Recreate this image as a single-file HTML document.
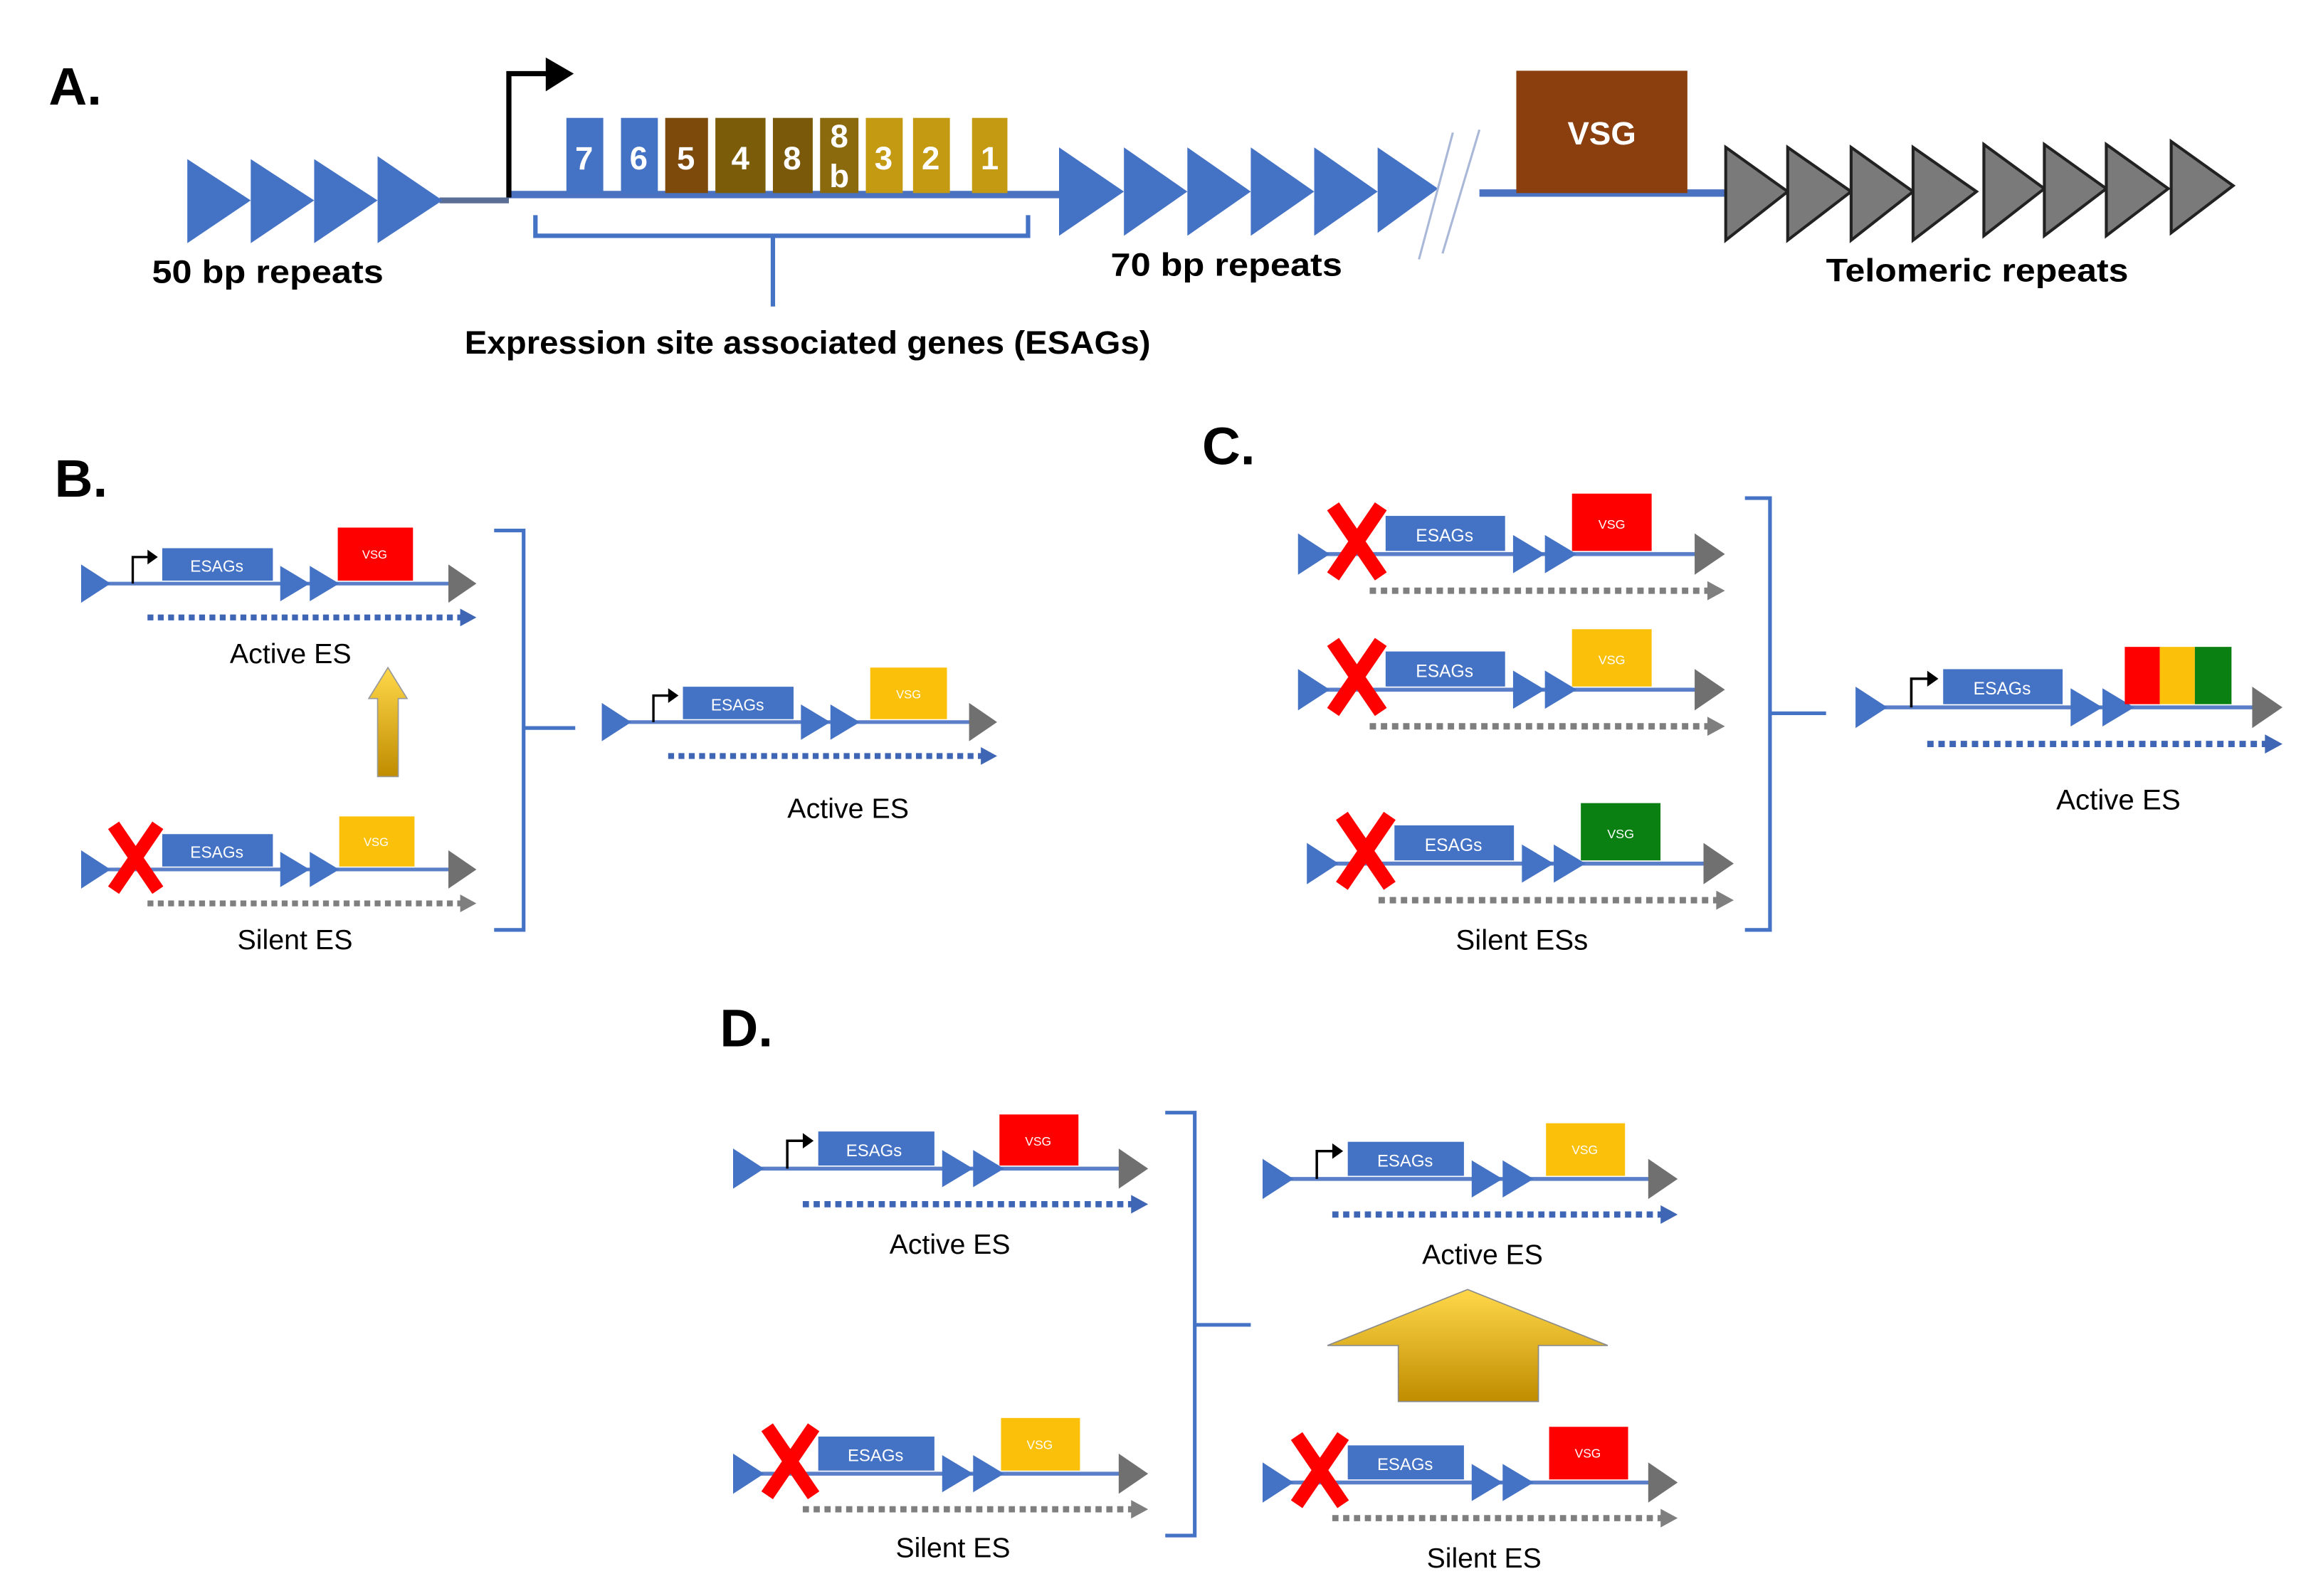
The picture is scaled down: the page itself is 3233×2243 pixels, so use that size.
<!DOCTYPE html>
<html><head><meta charset="utf-8"><style>
html,body{margin:0;padding:0;background:#fff}
svg{display:block}
text{font-family:"Liberation Sans",sans-serif}
</style></head><body>
<svg width="3233" height="2243" viewBox="0 0 1560 1083" preserveAspectRatio="none" xmlns="http://www.w3.org/2000/svg">
<defs>
<g id="u">
  <line x1="18" y1="0" x2="255" y2="0" stroke="#5a7fc8" stroke-width="2.5"/>
  <polygon points="0,-13 20,0 0,13" fill="#4472c4"/>
  <rect x="55" y="-24" width="75" height="22" fill="#4472c4"/>
  <polygon points="135,-12 155,0 135,12" fill="#4472c4"/>
  <polygon points="155,-12 175,0 155,12" fill="#4472c4"/>
  <polygon points="249,-13 268,0 249,13" fill="#707070"/>
</g>
<g id="pr"><path d="M35,0 V-18 H46" fill="none" stroke="#000" stroke-width="1.6"/><polygon points="45,-23 52,-18 45,-13" fill="#000"/></g>
<g id="db"><line x1="45" y1="23" x2="258" y2="23" stroke="#3f65b5" stroke-width="4" stroke-dasharray="4 3"/><polygon points="257,17 268,23 257,29" fill="#3f65b5"/></g>
<g id="dg"><line x1="45" y1="23" x2="258" y2="23" stroke="#7f7f7f" stroke-width="4" stroke-dasharray="4 3"/><polygon points="257,17 268,23 257,29" fill="#7f7f7f"/></g>
<g id="x"><line x1="22" y1="-30" x2="52" y2="14" stroke="#f00" stroke-width="9"/><line x1="52" y1="-30" x2="22" y2="14" stroke="#f00" stroke-width="9"/></g>
</defs>

<!-- Panel A -->
<text x="33" y="71" font-size="36" font-weight="bold">A.</text>
<line x1="298" y1="136" x2="345" y2="136" stroke="#5b6f96" stroke-width="4"/>
<line x1="345" y1="132" x2="720" y2="132" stroke="#4a72c0" stroke-width="5"/>
<g fill="#4472c4">
<polygon points="127,108 170,136 127,165"/><polygon points="170,108 213,136 170,165"/><polygon points="213,108 256,136 213,165"/><polygon points="256,106 300,136 256,165"/>
</g>
<path d="M345,134 V50 H372" fill="none" stroke="#000" stroke-width="3.5"/>
<polygon points="370,39 389,50 370,62" fill="#000"/>
<g font-size="22" font-weight="bold" fill="#fff" text-anchor="middle">
<rect x="384" y="80" width="25" height="51" fill="#4472c4"/><text x="396" y="115">7</text>
<rect x="421" y="80" width="25" height="51" fill="#4472c4"/><text x="433" y="115">6</text>
<rect x="451" y="80" width="29" height="51" fill="#7d4a0c"/><text x="465" y="115">5</text>
<rect x="485" y="80" width="34" height="51" fill="#7a5c09"/><text x="502" y="115">4</text>
<rect x="524" y="80" width="27" height="51" fill="#7a5a0a"/><text x="537" y="115">8</text>
<rect x="556" y="80" width="26" height="51" fill="#8a6a0c"/><text x="569" y="100">8</text><text x="569" y="127">b</text>
<rect x="587" y="80" width="25" height="51" fill="#c49a12"/><text x="599" y="115">3</text>
<rect x="619" y="80" width="25" height="51" fill="#c49a12"/><text x="631" y="115">2</text>
<rect x="659" y="80" width="24" height="51" fill="#c49a12"/><text x="671" y="115">1</text>
</g>
<path d="M363,146 V160 H697 V146 M524,160 V208" fill="none" stroke="#4472c4" stroke-width="3"/>
<text x="103" y="192" font-size="22" font-weight="bold" textLength="157" lengthAdjust="spacingAndGlyphs">50 bp repeats</text>
<text x="315" y="240" font-size="22" font-weight="bold" textLength="465" lengthAdjust="spacingAndGlyphs">Expression site associated genes (ESAGs)</text>
<g fill="#4472c4">
<polygon points="718,100 762,130 718,160"/><polygon points="762,100 805,130 762,160"/><polygon points="805,100 848,130 805,160"/><polygon points="848,100 891,130 848,160"/><polygon points="891,100 934,130 891,160"/><polygon points="934,100 975,128 934,158"/>
</g>
<line x1="962" y1="176" x2="985" y2="90" stroke="#aab8d8" stroke-width="1.5"/>
<line x1="978" y1="172" x2="1003" y2="88" stroke="#aab8d8" stroke-width="1.5"/>
<line x1="1003" y1="131" x2="1172" y2="131" stroke="#4a72c0" stroke-width="5"/>
<rect x="1028" y="48" width="116" height="83" fill="#8b3f0f"/>
<text x="1086" y="98" font-size="22" font-weight="bold" fill="#fff" text-anchor="middle">VSG</text>
<g fill="#7a7a7a" stroke="#222" stroke-width="2">
<polygon points="1170,100 1212,130 1170,163"/><polygon points="1212,100 1255,130 1212,163"/><polygon points="1255,100 1297,130 1255,163"/><polygon points="1297,100 1340,130 1297,163"/><polygon points="1345,98 1386,128 1345,160"/><polygon points="1386,98 1428,128 1386,160"/><polygon points="1428,98 1470,128 1428,160"/><polygon points="1472,96 1514,126 1472,158"/>
</g>
<text x="753" y="187" font-size="22" font-weight="bold" textLength="157" lengthAdjust="spacingAndGlyphs">70 bp repeats</text>
<text x="1238" y="191" font-size="22" font-weight="bold" textLength="205" lengthAdjust="spacingAndGlyphs">Telomeric repeats</text>

<!-- Panel B -->
<text x="37" y="337" font-size="36" font-weight="bold">B.</text>
<g transform="translate(55,396)">
<use href="#u"/><use href="#pr"/><rect x="174" y="-38" width="51" height="36" fill="#f00"/><use href="#db"/>
<text x="92" y="-8" font-size="11" fill="#fff" text-anchor="middle">ESAGs</text>
<text x="199" y="-17" font-size="8" fill="#fff" text-anchor="middle">VSG</text>
<text x="142" y="54" font-size="19" text-anchor="middle">Active ES</text>
</g>
<defs><linearGradient id="gy" x1="0" y1="0" x2="0" y2="1"><stop offset="0" stop-color="#ffd84a"/><stop offset="1" stop-color="#c08c00"/></linearGradient></defs>
<polygon points="263,453 276,474 270,474 270,527 256,527 256,474 250,474" fill="url(#gy)" stroke="#999" stroke-width="0.8"/>
<g transform="translate(55,590)">
<use href="#u"/><rect x="175" y="-36" width="51" height="34" fill="#fbc00a"/><use href="#dg"/><use href="#x"/>
<text x="92" y="-8" font-size="11" fill="#fff" text-anchor="middle">ESAGs</text>
<text x="200" y="-16" font-size="8" fill="#fff" text-anchor="middle">VSG</text>
<text x="145" y="54" font-size="19" text-anchor="middle">Silent ES</text>
</g>
<path d="M335,360 H355 V631 H335 M355,494 H390" fill="none" stroke="#4472c4" stroke-width="2.5"/>
<g transform="translate(408,490)">
<use href="#u"/><use href="#pr"/><rect x="182" y="-37" width="52" height="35" fill="#fbc00a"/><use href="#db"/>
<text x="92" y="-8" font-size="11" fill="#fff" text-anchor="middle">ESAGs</text>
<text x="208" y="-16" font-size="8" fill="#fff" text-anchor="middle">VSG</text>
<text x="167" y="65" font-size="19" text-anchor="middle">Active ES</text>
</g>

<!-- Panel C -->
<text x="815" y="315" font-size="36" font-weight="bold">C.</text>
<g transform="translate(880,376) scale(1.08)">
<use href="#u"/><rect x="172" y="-38" width="50" height="36" fill="#f00"/><use href="#dg"/><use href="#x"/>
<text x="92" y="-8" font-size="11" fill="#fff" text-anchor="middle">ESAGs</text>
<text x="197" y="-16" font-size="8" fill="#fff" text-anchor="middle">VSG</text>
</g>
<g transform="translate(880,468) scale(1.08)">
<use href="#u"/><rect x="172" y="-38" width="50" height="36" fill="#fbc00a"/><use href="#dg"/><use href="#x"/>
<text x="92" y="-8" font-size="11" fill="#fff" text-anchor="middle">ESAGs</text>
<text x="197" y="-16" font-size="8" fill="#fff" text-anchor="middle">VSG</text>
</g>
<g transform="translate(886,586) scale(1.08)">
<use href="#u"/><rect x="172" y="-38" width="50" height="36" fill="#0a7f12"/><use href="#dg"/><use href="#x"/>
<text x="92" y="-8" font-size="11" fill="#fff" text-anchor="middle">ESAGs</text>
<text x="197" y="-16" font-size="8" fill="#fff" text-anchor="middle">VSG</text>
<text x="135" y="54" font-size="18" text-anchor="middle">Silent ESs</text>
</g>
<path d="M1183,338 H1200 V631 H1183 M1200,484 H1238" fill="none" stroke="#4472c4" stroke-width="2.5"/>
<g transform="translate(1258,480) scale(1.08)">
<use href="#u"/><use href="#pr"/>
<rect x="169" y="-38" width="22" height="36" fill="#f00"/><rect x="191" y="-38" width="22" height="36" fill="#fbc00a"/><rect x="213" y="-38" width="23" height="36" fill="#0a7f12"/>
<use href="#db"/>
<text x="92" y="-8" font-size="11" fill="#fff" text-anchor="middle">ESAGs</text>
<text x="165" y="64" font-size="18" text-anchor="middle">Active ES</text>
</g>

<!-- Panel D -->
<text x="488" y="710" font-size="36" font-weight="bold">D.</text>
<g transform="translate(497,793) scale(1.05)">
<use href="#u"/><use href="#pr"/><rect x="172" y="-35" width="51" height="33" fill="#f00"/><use href="#db"/>
<text x="91" y="-8" font-size="11" fill="#fff" text-anchor="middle">ESAGs</text>
<text x="197" y="-15" font-size="8" fill="#fff" text-anchor="middle">VSG</text>
<text x="140" y="55" font-size="18" text-anchor="middle">Active ES</text>
</g>
<g transform="translate(497,1000) scale(1.05)">
<use href="#u"/><rect x="173" y="-36" width="51" height="34" fill="#fbc00a"/><use href="#dg"/><use href="#x"/>
<text x="92" y="-8" font-size="11" fill="#fff" text-anchor="middle">ESAGs</text>
<text x="198" y="-16" font-size="8" fill="#fff" text-anchor="middle">VSG</text>
<text x="142" y="54" font-size="18" text-anchor="middle">Silent ES</text>
</g>
<path d="M790,755 H810 V1042 H790 M810,899 H848" fill="none" stroke="#4472c4" stroke-width="2.5"/>
<g transform="translate(856,800) scale(1.05)">
<use href="#u"/><use href="#pr"/><rect x="183" y="-36" width="51" height="34" fill="#fbc00a"/><use href="#db"/>
<text x="92" y="-8" font-size="11" fill="#fff" text-anchor="middle">ESAGs</text>
<text x="208" y="-16" font-size="8" fill="#fff" text-anchor="middle">VSG</text>
<text x="142" y="55" font-size="18" text-anchor="middle">Active ES</text>
</g>
<polygon points="995,875 1090,913 1043,913 1043,951 948,951 948,913 900,913" fill="url(#gy)" stroke="#8a8a8a" stroke-width="0.8"/>
<g transform="translate(856,1006) scale(1.05)">
<use href="#u"/><rect x="185" y="-36" width="51" height="34" fill="#f00"/><use href="#dg"/><use href="#x"/>
<text x="92" y="-8" font-size="11" fill="#fff" text-anchor="middle">ESAGs</text>
<text x="210" y="-16" font-size="8" fill="#fff" text-anchor="middle">VSG</text>
<text x="143" y="55" font-size="18" text-anchor="middle">Silent ES</text>
</g>
</svg>
</body></html>
